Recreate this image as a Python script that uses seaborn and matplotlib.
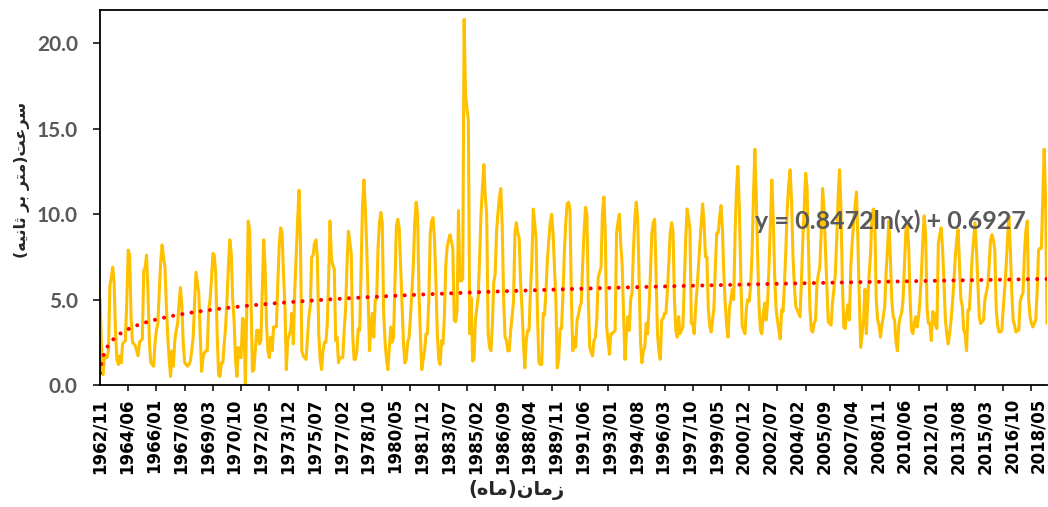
import numpy as np
import pandas as pd
import matplotlib
matplotlib.use("Agg")
import matplotlib.pyplot as plt
import seaborn as sns

# ---------------- data ----------------
tick_labels = [
    "1962/11", "1964/06", "1966/01", "1967/08", "1969/03", "1970/10",
    "1972/05", "1973/12", "1975/07", "1977/02", "1978/10", "1980/05",
    "1981/12", "1983/07", "1985/02", "1986/09", "1988/04", "1989/11",
    "1991/06", "1993/01", "1994/08", "1996/03", "1997/10", "1999/05",
    "2000/12", "2002/07", "2004/02", "2005/09", "2007/04", "2008/11",
    "2010/06", "2012/01", "2013/08", "2015/03", "2016/10", "2018/05",
]

# monthly mean velocity (m/s), 12 values per line
speed = [
    5.0, 2.4, 0.6, 1.5, 1.7, 1.6, 2.0, 5.8, 6.3, 6.9, 6.0, 3.0,
    1.5, 1.2, 1.7, 1.3, 2.4, 2.5, 2.6, 5.0, 7.9, 7.6, 4.0, 2.5,
    2.4, 2.3, 2.0, 1.7, 2.5, 2.6, 2.7, 6.7, 6.9, 7.6, 5.4, 2.5,
    1.3, 1.2, 1.1, 2.5, 3.2, 3.6, 5.5, 7.2, 8.2, 7.5, 6.9, 4.7,
    2.8, 1.5, 0.5, 2.0, 1.1, 2.6, 3.2, 3.6, 4.8, 5.7, 4.6, 2.4,
    1.3, 1.2, 1.1, 1.2, 1.4, 2.0, 2.8, 4.8, 6.6, 6.0, 5.4, 3.0,
    0.8, 1.6, 1.9, 2.0, 2.0, 4.4, 5.0, 6.2, 7.7, 7.6, 6.5, 3.0,
    0.6, 0.5, 1.3, 1.3, 2.4, 3.4, 5.0, 7.0, 8.5, 7.7, 5.0, 3.8,
    1.5, 0.5, 2.2, 1.6, 1.6, 3.9, 3.8, 0.1, 4.5, 9.6, 9.1, 5.0,
    0.8, 0.9, 2.0, 3.2, 3.2, 2.4, 2.6, 5.5, 8.5, 6.9, 3.5, 2.0,
    1.6, 2.8, 2.0, 3.4, 3.4, 3.4, 6.0, 8.2, 9.2, 8.9, 6.5, 4.8,
    0.9, 2.6, 2.9, 3.2, 4.2, 2.4, 5.5, 7.6, 9.6, 11.4, 8.5, 2.0,
    1.7, 1.6, 1.5, 2.8, 4.0, 4.6, 7.5, 7.6, 8.3, 8.5, 7.5, 3.0,
    1.5, 0.9, 2.0, 2.5, 2.5, 3.5, 6.2, 9.6, 7.4, 7.0, 6.8, 2.6,
    2.8, 1.3, 1.6, 1.6, 1.6, 3.2, 4.4, 7.0, 9.0, 8.4, 7.7, 3.0,
    1.5, 1.5, 2.0, 3.3, 3.2, 6.9, 10.5, 12.0, 10.4, 8.0, 5.0, 2.0,
    3.5, 4.2, 2.8, 5.0, 5.0, 8.0, 9.5, 10.1, 9.5, 4.2, 2.5, 1.5,
    0.9, 2.2, 3.4, 2.5, 2.8, 6.0, 9.3, 9.7, 9.2, 7.0, 4.8, 2.5,
    1.3, 1.5, 2.5, 2.8, 4.0, 5.5, 7.0, 9.5, 10.7, 10.0, 5.4, 3.0,
    0.9, 1.5, 2.0, 3.0, 3.0, 5.0, 8.9, 9.6, 9.8, 8.5, 6.0, 3.0,
    1.5, 1.2, 2.6, 2.4, 4.0, 7.0, 8.1, 8.5, 8.8, 8.4, 8.0, 3.8,
    3.7, 4.4, 10.2, 6.1, 6.1, 6.2, 21.4, 17.0, 16.2, 15.5, 3.0, 5.1,
    1.4, 1.5, 3.8, 4.5, 5.2, 7.5, 10.1, 11.6, 12.9, 11.0, 10.0, 3.0,
    2.2, 2.0, 3.5, 6.0, 6.5, 9.0, 10.1, 11.0, 11.5, 9.3, 5.0, 2.8,
    2.6, 2.0, 2.0, 3.2, 4.0, 4.9, 8.9, 9.5, 8.9, 8.6, 6.0, 4.5,
    2.5, 1.0, 2.6, 3.2, 3.2, 5.5, 7.3, 10.3, 9.5, 8.5, 4.0, 1.3,
    1.2, 1.2, 4.2, 4.1, 5.5, 7.3, 8.5, 9.5, 10.0, 8.9, 7.0, 5.0,
    1.0, 1.5, 3.3, 3.3, 5.2, 7.7, 9.5, 10.6, 10.7, 10.3, 5.0, 2.0,
    2.8, 2.2, 3.8, 4.1, 4.6, 4.8, 7.1, 9.0, 10.4, 10.0, 5.0, 2.2,
    1.9, 1.7, 2.6, 2.8, 3.8, 6.3, 6.6, 6.9, 10.0, 11.0, 9.0, 3.4,
    2.5, 1.8, 3.0, 3.0, 3.1, 3.2, 8.9, 9.5, 10.0, 8.2, 7.0, 4.0,
    1.5, 3.0, 4.0, 3.2, 5.0, 5.4, 8.0, 9.8, 10.7, 9.7, 6.0, 2.5,
    1.3, 2.0, 2.2, 3.6, 3.0, 4.5, 6.5, 8.9, 9.5, 9.7, 6.5, 3.0,
    2.0, 1.5, 3.8, 3.9, 4.2, 4.2, 5.5, 7.1, 8.9, 9.5, 9.0, 5.0,
    3.2, 2.8, 4.0, 3.0, 3.2, 3.4, 6.0, 8.5, 10.3, 9.8, 9.1, 3.6,
    3.6, 3.0, 4.5, 5.6, 6.9, 8.3, 9.5, 10.6, 9.5, 7.5, 7.5, 4.5,
    3.5, 3.1, 3.8, 4.5, 6.9, 8.9, 8.9, 9.8, 10.5, 9.2, 6.5, 4.8,
    3.5, 2.8, 4.5, 5.0, 5.6, 5.0, 8.9, 11.5, 12.8, 10.4, 6.5, 3.5,
    3.2, 3.0, 4.5, 5.0, 4.9, 5.8, 7.7, 11.0, 13.8, 11.0, 7.5, 4.5,
    3.2, 3.0, 4.2, 4.8, 3.8, 4.8, 6.9, 9.5, 12.0, 9.8, 6.5, 4.5,
    3.8, 3.2, 2.7, 4.4, 4.3, 6.0, 8.0, 10.4, 11.8, 12.6, 10.8, 7.5,
    5.8, 4.6, 4.4, 4.2, 4.0, 6.1, 8.5, 10.4, 12.4, 11.5, 8.0, 4.5,
    3.2, 3.1, 3.6, 3.8, 5.9, 6.5, 6.9, 8.9, 11.5, 10.3, 8.0, 5.9,
    3.7, 3.6, 3.5, 4.8, 5.6, 6.5, 8.5, 11.0, 12.6, 10.4, 6.0, 3.4,
    3.3, 4.2, 4.7, 3.8, 7.0, 8.4, 9.5, 10.5, 11.3, 8.5, 5.0, 2.2,
    3.0, 3.8, 5.6, 3.0, 5.0, 6.5, 7.7, 10.0, 10.3, 9.5, 5.0, 3.8,
    3.5, 2.8, 3.5, 4.0, 4.6, 6.6, 8.0, 9.6, 7.5, 5.0, 4.0, 3.8,
    2.5, 2.0, 3.5, 4.0, 4.2, 5.0, 7.0, 9.0, 9.6, 8.1, 5.0, 3.2,
    3.0, 3.6, 4.0, 3.4, 4.0, 5.0, 6.5, 8.5, 9.9, 8.8, 4.5, 3.6,
    3.6, 2.6, 4.3, 4.2, 3.5, 3.3, 8.3, 8.8, 9.2, 8.0, 6.0, 3.8,
    3.0, 2.4, 3.0, 3.8, 4.8, 6.0, 7.5, 8.5, 9.1, 7.0, 5.0, 4.6,
    3.2, 3.0, 2.0, 4.4, 4.4, 6.0, 7.5, 8.5, 9.5, 8.0, 6.0, 4.0,
    3.6, 3.7, 3.8, 5.0, 5.4, 5.8, 7.0, 8.5, 8.8, 8.5, 7.9, 4.5,
    3.5, 3.1, 3.1, 3.2, 4.5, 5.6, 6.9, 8.5, 9.9, 8.0, 5.5, 3.8,
    3.5, 3.1, 3.2, 3.2, 4.9, 5.2, 5.4, 7.7, 9.0, 9.6, 5.0, 4.0,
    3.6, 3.4, 3.6, 3.8, 5.4, 7.9, 8.0, 8.0, 10.8, 13.8, 10.8, 3.6,
]

# logarithmic trendline shown on the chart
trend_a = 0.8472
trend_b = 0.6927
y_ticks = [0, 5, 10, 15, 20]

# Persian labels (presentation forms, visual order)
x_title = "(\uFEE9\uFE8E\uFEE3)\uFEE5\uFE8E\uFEE3\uFEAF"          # زمان(ماه)
y_title = ("(\uFEEA\uFEF4\uFEE7\uFE8E\uFE9B \uFEAE\uFE91 \uFEAE\uFE98\uFEE3)"
           "\uFE96\uFECB\uFEAE\uFEB3")                             # سرعت(متر بر ثانیه)
eq_text = "y = %.4fln(x) + %.4f" % (trend_a, trend_b)

# ---------------- plot ----------------
sns.set_style("white")
plt.rcParams["font.family"] = ["DejaVu Sans"]

n = len(speed)
df = pd.DataFrame({"month": np.arange(n), "speed": speed})
df["trend"] = trend_a * np.log(df["month"] + 1) + trend_b

W, H = 1048, 507
fig = plt.figure(figsize=(W / 100, H / 100), dpi=100)
ax = fig.add_axes([100 / W, 122 / H, 947 / W, 375 / H])

sns.lineplot(data=df, x="month", y="speed", color="#FFC000", linewidth=2.2,
             estimator=None, ax=ax)
sns.lineplot(data=df, x="month", y="trend", color="#FF0000", linewidth=2.9,
             estimator=None, ax=ax)
tl = ax.lines[-1]
tl.set_linestyle((0, (0.01, 2.3)))
tl.set_dash_capstyle("round")

ax.set_xlim(0, n - 1)
ax.set_ylim(0, 21.95)

# x axis: labels every 19 months, tick marks every 20 months
ax.set_xticks(np.arange(len(tick_labels)) * 19)
ax.set_xticklabels(tick_labels, rotation=90, fontweight="bold",
                   fontsize=12, family="DejaVu Sans", color="black")
ax.set_xticks(np.arange(0, n, 20), minor=True)
ax.tick_params(axis="x", which="major", length=0, pad=9.5, bottom=True)
ax.tick_params(axis="x", which="minor", length=4.5, width=1.1,
               direction="out", color="black", bottom=True)

ax.set_yticks(y_ticks)
ax.set_yticklabels(["%.1f" % v for v in y_ticks], family="Lato",
                   fontweight="bold", fontsize=15, color="#595959")
ax.tick_params(axis="y", which="major", length=5, width=1.1,
               direction="out", color="black", pad=11, left=True)

for side in ["left", "bottom", "top"]:
    ax.spines[side].set_visible(True)
    ax.spines[side].set_color("black")
    ax.spines[side].set_linewidth(1.3)
ax.spines["right"].set_visible(False)
ax.set_xlabel("")
ax.set_ylabel("")
ax.grid(False)

fig.text(755 / W, 1 - 229 / H, eq_text, family="Lato", fontweight="bold",
         fontsize=18, color="#595959", ha="left", va="baseline")
fig.text(516 / W, 1 - 490 / H, x_title, family="DejaVu Sans",
         fontweight="bold", fontsize=14, ha="center", va="center")
fig.text(22 / W, 1 - 180 / H, y_title, family="DejaVu Sans",
         fontweight="bold", fontsize=11.5, rotation=90, ha="center",
         va="center")

fig.savefig("out.png", dpi=100)
